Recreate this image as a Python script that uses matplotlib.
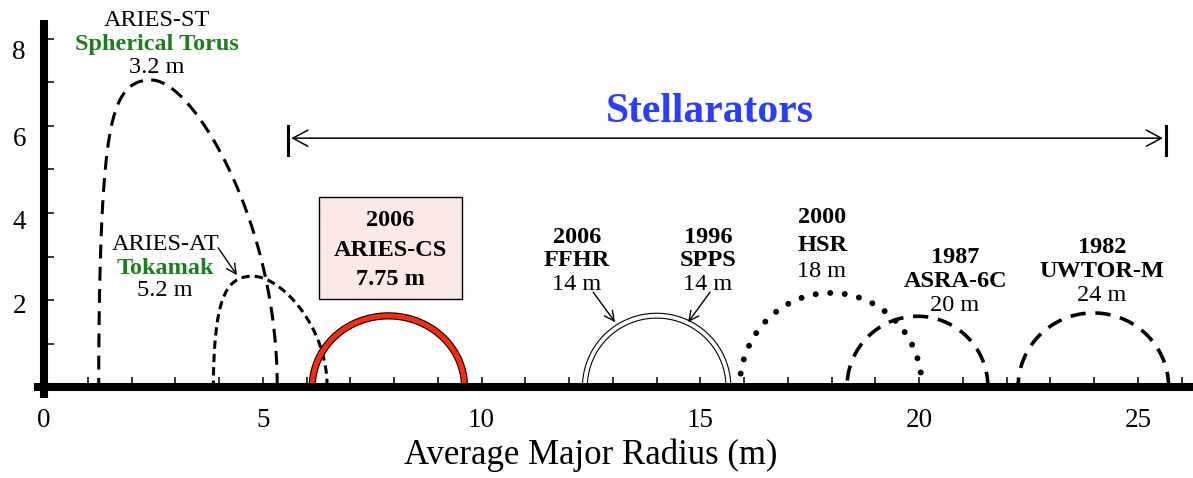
import matplotlib
matplotlib.use('Agg')
import matplotlib.pyplot as plt
from matplotlib.patches import Rectangle
import numpy as np

plt.rcParams['font.family'] = ['Liberation Serif', 'DejaVu Serif']
plt.rcParams['lines.scale_dashes'] = False

# plasma cross sections: centre R0, half width a, elongation, triangularity,
# squareness of the inboard side
shape_r0 = [3.29, 5.17, 7.87, 14.0, 17.98, 19.96, 23.98]
shape_a = [2.04, 1.30, 1.74, 1.64, 2.08, 1.61, 1.72]
shape_kappa = [3.46, 1.96, 0.94, 1.00, 1.04, 1.01, 0.99]
shape_delta = [0.43, 0.32, 0.0, 0.0, 0.0, 0.0, 0.0]
shape_square = [0.15, 0.10, 0.0, 0.0, 0.0, 0.0, 0.0]

# label blocks: x, baseline of each line, and (text, bold, colour) per line
label_x = [2.58, 2.77, 7.91, 12.18, 15.17, 17.78, 20.82, 24.18]
label_y = [[8.30, 7.75, 7.22], [3.15, 2.60, 2.09], [3.70, 3.01, 2.34],
           [3.31, 2.78, 2.23], [3.31, 2.78, 2.23], [3.77, 3.13, 2.53],
           [2.85, 2.30, 1.75], [3.08, 2.53, 1.98]]
GREEN = '#1e7d1e'
label_lines = [
    [('ARIES-ST', False, 'black'), ('Spherical Torus', True, GREEN), ('3.2 m', False, 'black')],
    [('ARIES-AT', False, 'black'), ('Tokamak', True, GREEN), ('5.2 m', False, 'black')],
    [('2006', True, 'black'), ('ARIES-CS', True, 'black'), ('7.75 m', True, 'black')],
    [('2006', True, 'black'), ('FFHR', True, 'black'), ('14 m', False, 'black')],
    [('1996', True, 'black'), ('SPPS', True, 'black'), ('14 m', False, 'black')],
    [('2000', True, 'black'), ('HSR', True, 'black'), ('18 m', False, 'black')],
    [('1987', True, 'black'), ('ASRA-6C', True, 'black'), ('20 m', False, 'black')],
    [('1982', True, 'black'), ('UWTOR-M', True, 'black'), ('24 m', False, 'black')],
]

# pointer arrows (tail -> tip)
pointer_tail = [(3.98, 3.20), (12.55, 2.18), (15.22, 2.18)]
pointer_tip = [(4.41, 2.57), (13.05, 1.49), (14.72, 1.49)]

stell_x = [5.58, 25.64]
stell_y = 5.72

xticks = [0, 5, 10, 15, 20, 25]
ylabels = ['2', '4', '6', '8']
ylabel_pos = [1.91, 3.86, 5.77, 7.75]

fig = plt.figure(figsize=(11.93, 4.78), dpi=100)
ax = fig.add_axes([0, 0, 1, 1])
ax.set_xlim(-44 / 43.76, (1193 - 44) / 43.76)
ax.set_ylim(-(478 - 387) / 43.5, 387 / 43.5)

styles = [
    [dict(color='black', lw=2.2, dashes=(10, 6))],
    [dict(color='black', lw=2.2, dashes=(6, 3.6))],
    [dict(color='black', lw=5.2), dict(color='#ff2a0a', lw=3.6)],
    [dict(color='black', lw=4.3), dict(color='white', lw=2.7)],
    [dict(color='black', lw=4.3, dashes=(0.01, 10.5), dash_capstyle='round')],
    [dict(color='black', lw=2.6, dashes=(11, 7))],
    [dict(color='black', lw=2.6, dashes=(11, 7))],
]

t = np.linspace(0, np.pi, 400)
for r0, a, k, d, sq, st in zip(shape_r0, shape_a, shape_kappa, shape_delta,
                               shape_square, styles):
    R = r0 + a * np.cos(t + d * np.sin(t))
    Z = k * a * np.sin(t + sq * np.minimum(np.sin(2 * t), 0))
    for s in st:
        ax.plot(R, Z, zorder=2, **s)

# ARIES-CS box
ax.add_patch(Rectangle((6.28, 2.02), 9.55 - 6.28, 4.37 - 2.02, facecolor='#fbe9e5',
                       edgecolor='black', lw=1.0, zorder=3))

for x, ys, lines in zip(label_x, label_y, label_lines):
    for y, (s, bold, c) in zip(ys, lines):
        ax.text(x, y, s, ha='center', va='baseline', fontsize=17.5,
                fontweight='bold' if bold else 'normal', color=c, zorder=4)

for tail, tip in zip(pointer_tail, pointer_tip):
    ax.annotate('', xy=tip, xytext=tail,
                arrowprops=dict(arrowstyle='->,head_length=0.7,head_width=0.35',
                                mutation_scale=10, lw=1.0, color='black',
                                shrinkA=0, shrinkB=0))

# Stellarators range
ax.annotate('', xy=(stell_x[1] - 0.07, stell_y), xytext=(stell_x[0] + 0.07, stell_y),
            arrowprops=dict(arrowstyle='<->,head_length=1.08,head_width=0.58',
                            mutation_scale=10, lw=1.1, color='black',
                            shrinkA=0, shrinkB=0))
for x in stell_x:
    ax.plot([x, x], [stell_y - 0.38, stell_y + 0.27], color='black', lw=2.2)
ax.text(15.22, 6.09, 'Stellarators', ha='center', va='baseline', fontsize=30,
        fontweight='bold', color='#2a3cff')

# axes
for side in ['top', 'right']:
    ax.spines[side].set_visible(False)
ax.spines['left'].set_position(('data', 0))
ax.spines['bottom'].set_position(('data', 0))
ax.spines['left'].set_bounds(-0.25, 8.44)
ax.spines['bottom'].set_bounds(-0.23, 26.4)
for side in ['left', 'bottom']:
    ax.spines[side].set_linewidth(5.8)
    ax.spines[side].set_capstyle('butt')
    ax.spines[side].set_zorder(5)

ax.set_xticks(xticks)
ax.set_xticks(range(1, 27), minor=True)
ax.tick_params(axis='x', which='both', direction='in', length=7, width=1.1, pad=15,
               labelsize=19.5)
ax.set_yticks(ylabel_pos, ylabels)
ax.set_yticks(range(1, 9), minor=True)
ax.tick_params(axis='y', which='major', length=0, pad=13, labelsize=19.5)
ax.tick_params(axis='y', which='minor', direction='in', length=7, width=1.1)

ax.text(12.5, -1.78, 'Average Major Radius (m)', ha='center', va='baseline', fontsize=25)

fig.savefig('out.png', dpi=100)
